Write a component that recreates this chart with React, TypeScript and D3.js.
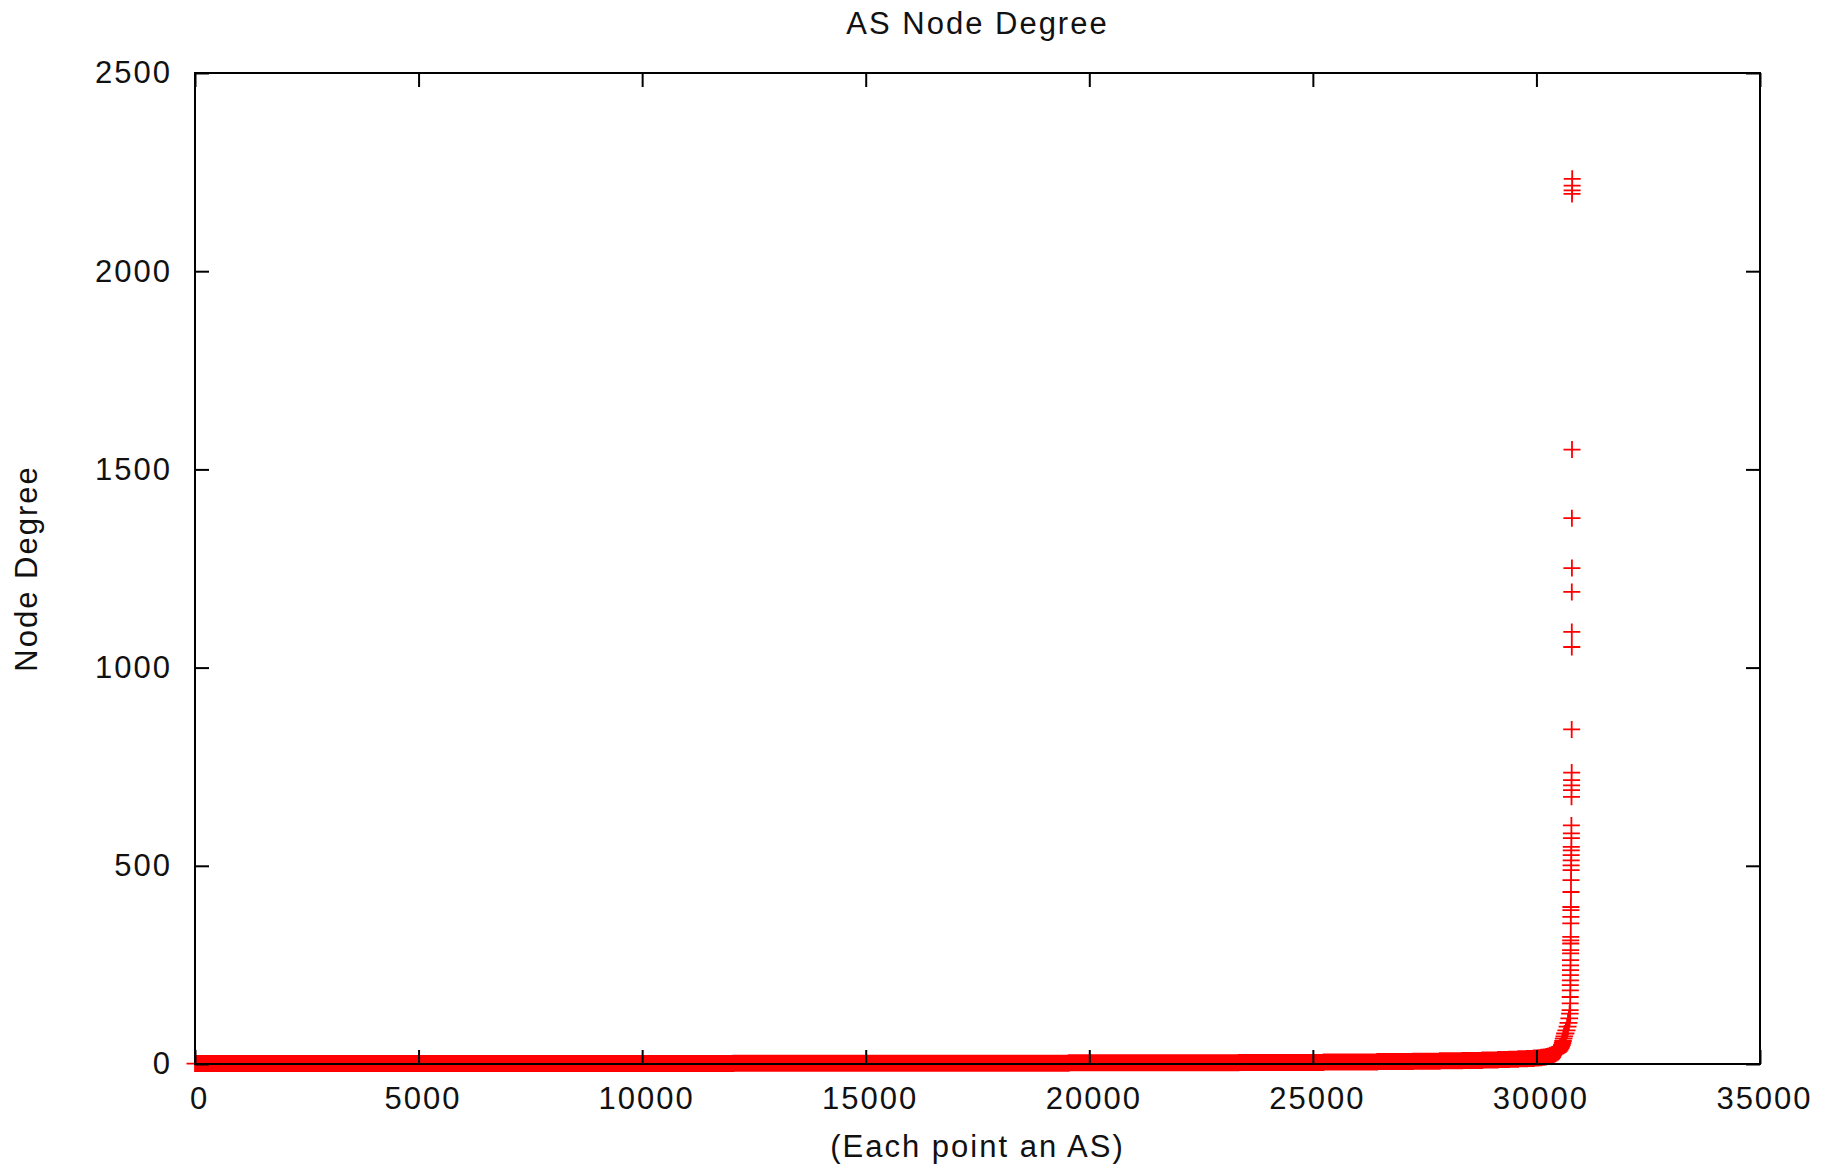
import { useEffect, useRef } from 'react';
import * as d3 from 'd3';

// x axis ticks and y axis ticks
const xTicks = [0, 5000, 10000, 15000, 20000, 25000, 30000, 35000];
const yTicks = [0, 500, 1000, 1500, 2000, 2500];

// sorted node degrees, stored as (degree, number of ASes with that degree)
const degreeValues = [1, 2, 3, 4, 5, 6, 7, 8, 9, 10, 11, 12, 13, 14, 15, 16, 17, 18, 19, 20,
  22, 24, 26, 28, 30, 33, 36, 40, 44, 48, 53, 58, 64, 70, 77, 85, 94, 104, 115, 127];
const degreeCounts = [12040, 7500, 3800, 1900, 1200, 800, 600, 500, 450, 350, 250, 200, 200, 150, 100, 70, 60, 50, 45, 40,
  45, 40, 35, 30, 30, 25, 20, 18, 16, 14, 12, 12, 14, 14, 30, 25, 22, 20, 15, 12];

// the highest-degree ASes, read one by one
const topDegrees = [136, 153, 169, 186, 199, 211, 224, 237, 249, 262, 279, 287, 304, 312, 321, 355, 371, 388, 396,
  434, 464, 489, 501, 514, 527, 539, 548, 570, 582, 602, 674, 691, 703, 716, 735, 844, 1052, 1090, 1191, 1251,
  1377, 1550, 2195, 2204, 2216, 2233];

const FONT = '"Liberation Sans", Arial, Helvetica, sans-serif';

export default function App() {
  const ref = useRef<SVGSVGElement>(null);

  useEffect(() => {
    const width = 1837;
    const height = 1166;
    const margin = { left: 195, right: 77, top: 73, bottom: 102 };

    const svg = d3.select(ref.current);
    svg.selectAll('*').remove();

    const x = d3.scaleLinear().domain([0, 35000]).range([margin.left, width - margin.right]);
    const y = d3.scaleLinear().domain([0, 2500]).range([height - margin.bottom, margin.top]);

    // expand the degree distribution into ranked points
    const points: [number, number][] = [];
    degreeValues.forEach((d, i) => {
      for (let k = 0; k < degreeCounts[i]; k++) points.push([points.length, d]);
    });
    topDegrees.forEach(d => points.push([points.length, d]));

    const h = 8.5;
    let dStr = '';
    points.forEach(([r, d]) => {
      const px = x(r);
      const py = y(d);
      dStr += `M${(px - h).toFixed(1)},${py.toFixed(1)}h${2 * h}M${px.toFixed(1)},${(py - h).toFixed(1)}v${2 * h}`;
    });
    svg.append('path')
      .attr('d', dStr)
      .attr('fill', 'none')
      .attr('stroke', '#ff0000')
      .attr('stroke-width', 1.8);

    const fmt = d3.format('d');

    const styleAxis = (g: any) => {
      g.select('.domain').remove();
      g.selectAll('line').attr('stroke', '#000').attr('stroke-width', 2);
      g.attr('font-size', 31).attr('font-family', FONT);
      g.selectAll('text').attr('fill', '#111').attr('letter-spacing', 2);
    };

    svg.append('g')
      .attr('transform', `translate(0,${height - margin.bottom})`)
      .call(d3.axisBottom(x).tickValues(xTicks).tickSize(-14).tickPadding(23).tickFormat(fmt))
      .call(styleAxis)
      .selectAll('text').attr('dx', 4);

    svg.append('g')
      .attr('transform', `translate(0,${margin.top})`)
      .call(d3.axisTop(x).tickValues(xTicks).tickSize(-14).tickFormat(() => ''))
      .call(styleAxis);

    svg.append('g')
      .attr('transform', `translate(${margin.left},0)`)
      .call(d3.axisLeft(y).tickValues(yTicks).tickSize(-14).tickPadding(23).tickFormat(fmt))
      .call(styleAxis);

    svg.append('g')
      .attr('transform', `translate(${width - margin.right},0)`)
      .call(d3.axisRight(y).tickValues(yTicks).tickSize(-14).tickFormat(() => ''))
      .call(styleAxis);

    svg.append('rect')
      .attr('x', margin.left)
      .attr('y', margin.top)
      .attr('width', width - margin.left - margin.right)
      .attr('height', height - margin.top - margin.bottom)
      .attr('fill', 'none')
      .attr('stroke', '#000')
      .attr('stroke-width', 2);

    const cx = (margin.left + width - margin.right) / 2;
    const textStyle = (t: any) => t
      .attr('font-family', FONT)
      .attr('font-size', 31)
      .attr('letter-spacing', 2)
      .attr('fill', '#111')
      .attr('text-anchor', 'middle');

    svg.append('text')
      .attr('x', cx)
      .attr('y', 34)
      .text('AS Node Degree')
      .call(textStyle);

    svg.append('text')
      .attr('x', cx)
      .attr('y', 1157)
      .text('(Each point an AS)')
      .call(textStyle);

    svg.append('text')
      .attr('transform', `translate(37,${(margin.top + height - margin.bottom) / 2}) rotate(-90)`)
      .text('Node Degree')
      .call(textStyle);
  }, []);

  return (
    <svg
      ref={ref}
      width={1837}
      height={1166}
      style={{ position: 'absolute', left: 0, top: 0, background: '#fff' }}
    ></svg>
  );
}
